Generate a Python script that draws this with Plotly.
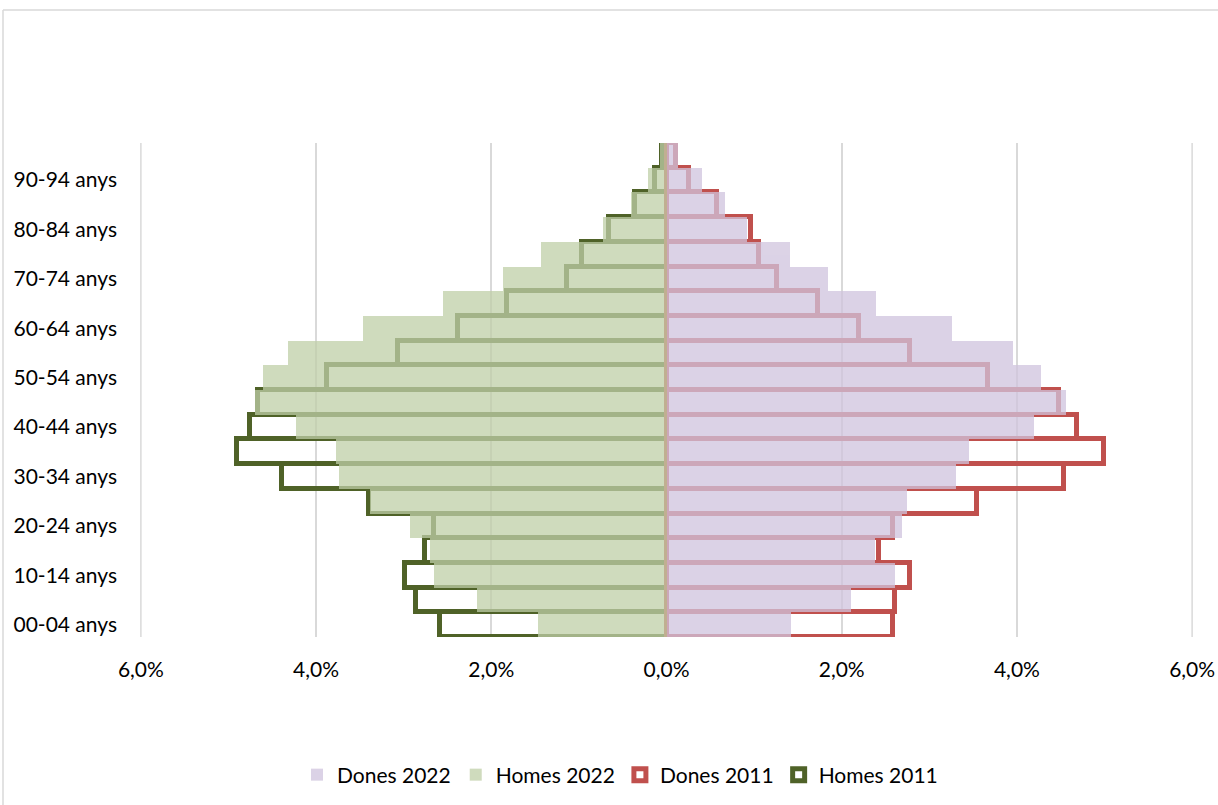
import plotly.graph_objects as go

# Age groups, youngest at the bottom
grups = [
    "00-04 anys", "05-09 anys", "10-14 anys", "15-19 anys", "20-24 anys",
    "25-29 anys", "30-34 anys", "35-39 anys", "40-44 anys", "45-49 anys",
    "50-54 anys", "55-59 anys", "60-64 anys", "65-69 anys", "70-74 anys",
    "75-79 anys", "80-84 anys", "85-89 anys", "90-94 anys", "95-99 anys",
]

# Share of total population (%)
homes_2022 = [1.47, 2.16, 2.65, 2.70, 2.93, 3.38, 3.74, 3.77, 4.23, 4.70,
              4.61, 4.32, 3.46, 2.55, 1.87, 1.43, 0.72, 0.41, 0.21, 0.07]
homes_2011 = [2.58, 2.86, 2.98, 2.76, 2.65, 3.40, 4.39, 4.90, 4.76, 4.66,
              3.87, 3.06, 2.38, 1.82, 1.14, 0.97, 0.66, 0.36, 0.13, 0.05]
dones_2022 = [1.42, 2.11, 2.61, 2.38, 2.69, 2.75, 3.31, 3.45, 4.19, 4.56,
              4.28, 3.95, 3.26, 2.39, 1.84, 1.41, 0.92, 0.67, 0.40, 0.13]
dones_2011 = [2.59, 2.61, 2.78, 2.42, 2.59, 3.54, 4.54, 4.99, 4.69, 4.48,
              3.67, 2.78, 2.20, 1.73, 1.26, 1.06, 0.97, 0.58, 0.26, 0.11]

eix_vals = [-6, -4, -2, 0, 2, 4, 6]
eix_text = ["6,0%", "4,0%", "2,0%", "0,0%", "2,0%", "4,0%", "6,0%"]
grups_visibles = grups[0:19:2]

FONT = "Lato"
GRID = "#D9D9D9"
fig = go.Figure()

# 2011: outlined bars underneath
fig.add_trace(go.Bar(
    y=grups, x=[-v for v in homes_2011], orientation="h", name="Homes 2011",
    marker=dict(color="rgba(0,0,0,0)", line=dict(color="#4F6228", width=5)),
    legendrank=4,
))
fig.add_trace(go.Bar(
    y=grups, x=dones_2011, orientation="h", name="Dones 2011",
    marker=dict(color="rgba(0,0,0,0)", line=dict(color="#C0504D", width=5)),
    legendrank=3,
))

# 2022: translucent filled bars on top
fig.add_trace(go.Bar(
    y=grups, x=[-v for v in homes_2022], orientation="h", name="Homes 2022",
    marker=dict(color="#C0CFA8", line=dict(width=0)), opacity=0.75,
    legendrank=2,
))
fig.add_trace(go.Bar(
    y=grups, x=dones_2022, orientation="h", name="Dones 2022",
    marker=dict(color="#D0C4DE", line=dict(width=0)), opacity=0.75,
    legendrank=1,
))

# Outer gridlines at the ends of the value axis
for v in (eix_vals[0], eix_vals[-1]):
    fig.add_shape(type="line", xref="x", yref="paper", x0=v, x1=v, y0=0, y1=1,
                  line=dict(color=GRID, width=1.5), layer="below")

# Chart frame (left and top edges)
px0, px1, py0, py1 = 140, 1193, 143, 637
def xp(px):
    return (px - px0) / (px1 - px0)
def yp(py):
    return (py1 - py) / (py1 - py0)

fig.add_shape(type="line", xref="paper", yref="paper",
              x0=xp(3), x1=xp(3), y0=yp(10), y1=yp(810),
              line=dict(color=GRID, width=1.5))
fig.add_shape(type="line", xref="paper", yref="paper",
              x0=xp(3), x1=xp(1225), y0=yp(10), y1=yp(10),
              line=dict(color=GRID, width=1.5))

fig.update_layout(
    width=1218, height=805,
    margin=dict(l=px0, r=1218 - px1, t=py0, b=805 - py1),
    paper_bgcolor="white", plot_bgcolor="white",
    barmode="overlay", bargap=0,
    font=dict(family=FONT, size=21, color="#000000"),
    xaxis=dict(
        range=[-6.01, 6.01], tickvals=eix_vals, ticktext=eix_text,
        showgrid=True, gridcolor=GRID, gridwidth=1.5,
        zeroline=False, showline=False, ticks="",
        ticklabelstandoff=18, fixedrange=True, automargin=False,
    ),
    yaxis=dict(
        type="category", categoryorder="array", categoryarray=grups,
        tickvals=grups_visibles, ticktext=grups_visibles,
        showgrid=False, zeroline=False, showline=False, ticks="",
        ticklabelstandoff=22, range=[-0.5, 19.5], fixedrange=True,
        automargin=False,
    ),
    legend=dict(
        orientation="h", xref="container", yref="container",
        x=620 / 1218, xanchor="center", y=1 - 775 / 805, yanchor="middle",
        font=dict(family=FONT, size=21), itemwidth=30, tracegroupgap=0,
    ),
    showlegend=True,
)

fig.write_html("out.html")
